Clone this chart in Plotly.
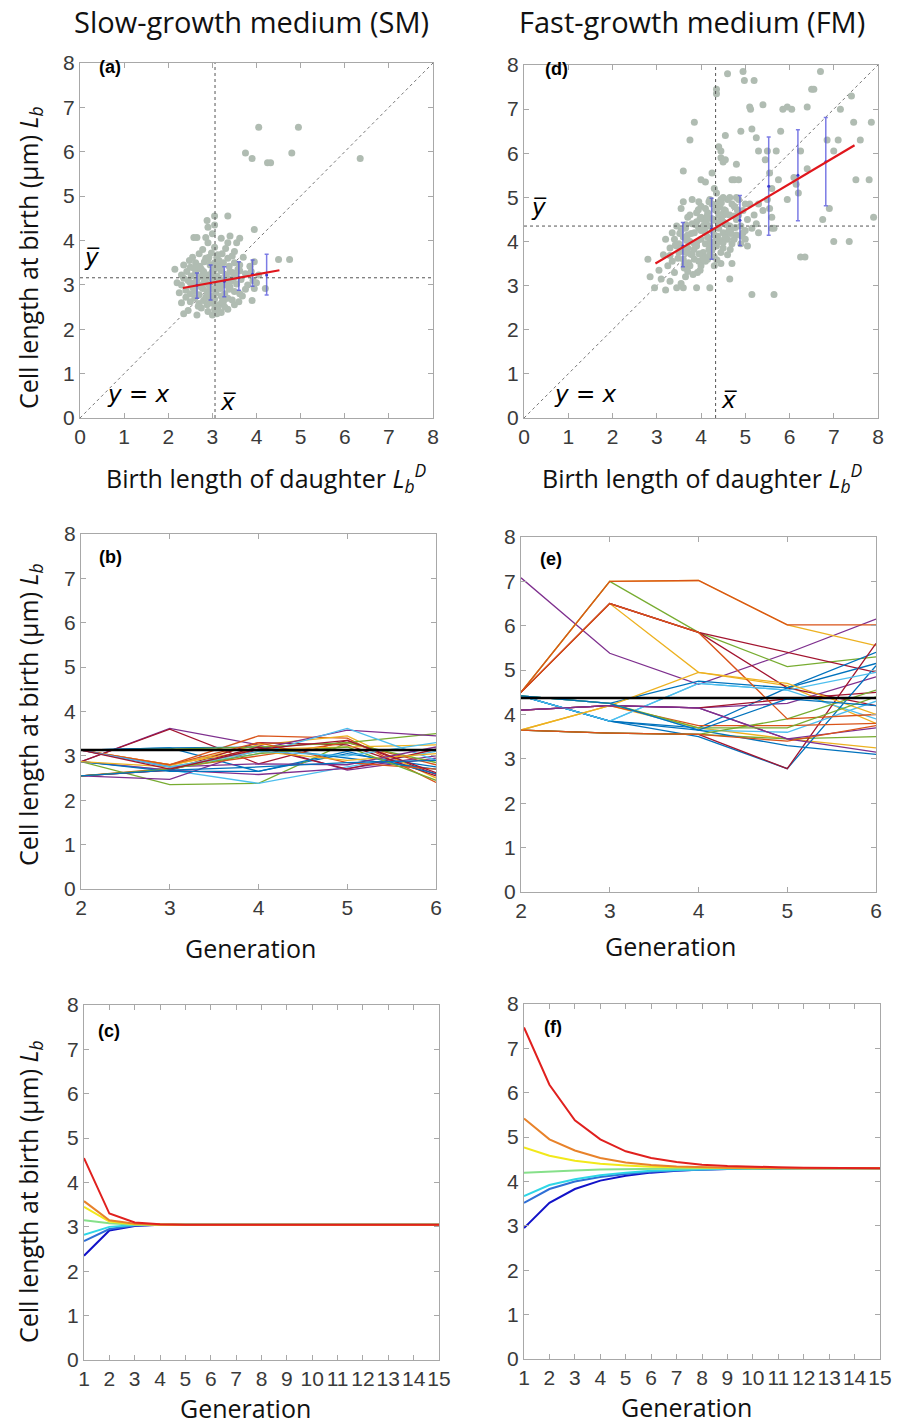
import plotly.graph_objects as go

# ---------------- DATA ----------------
# Panel (a): slow-growth medium scatter (daughter birth length vs cell birth length)
sm_x = [2.35,2.45,2.65,2.9,3.0,3.1,3.2,3.35,2.75,3.05,3.5,
        2.3,2.5,2.6,2.7,2.8,2.85,2.95,3.05,3.15,3.25,3.35,3.45,3.6,3.9,2.4,3.0,
        2.25,2.4,2.5,2.6,2.7,2.78,2.88,2.97,3.08,3.18,3.28,3.38,3.5,3.62,3.75,3.95,2.55,2.9,3.2,4.2,
        2.2,2.3,2.45,2.55,2.65,2.72,2.82,2.92,3.0,3.1,3.2,3.3,3.42,3.55,3.65,3.8,3.92,2.35,2.6,2.85,3.15,3.48,4.0,
        2.15,2.3,2.42,2.52,2.62,2.7,2.8,2.9,3.0,3.1,3.2,3.3,3.4,3.52,3.62,3.75,3.88,4.05,2.75,3.05,
        2.35,2.5,2.62,2.72,2.82,2.95,3.05,3.15,3.25,3.38,3.5,3.62,3.85,4.5,4.75,3.95,
        2.55,2.7,2.85,2.98,3.1,3.22,3.35,3.5,3.7,2.78,3.05,3.3,3.45,
        2.58,2.65,2.85,3.2,3.35,3.55,3.62,3.95,2.9,3.0,3.4,
        2.88,3.05,3.35,3.05,2.9,
        2.75,2.95,3.15,3.3,2.6,2.85,3.05,3.25,3.45,2.7,2.9,3.1,3.4,2.5,3.15,3.35,
        2.68,2.88,3.02,3.12,3.22,2.78,2.98,3.18,3.38,2.58,2.48,3.58,3.68,2.92,3.12,3.28,
        4.05,4.95,3.75,4.8,3.9,4.25,4.32,6.35]
sm_y = [2.35,2.42,2.32,2.4,2.32,2.35,2.38,2.45,2.48,2.45,2.55,
        2.6,2.62,2.7,2.58,2.65,2.72,2.6,2.68,2.55,2.62,2.7,2.66,2.62,2.65,2.72,2.75,
        2.82,2.88,2.8,2.9,2.78,2.92,2.85,2.9,2.82,2.92,2.8,2.9,2.85,2.8,2.9,2.92,2.95,2.78,2.75,2.92,
        3.05,3.0,3.1,3.02,3.12,3.0,3.08,3.0,3.12,3.02,3.1,3.0,3.08,3.02,3.12,3.0,3.1,3.15,3.05,3.15,3.15,3.15,3.05,
        3.35,3.22,3.3,3.2,3.28,3.18,3.3,3.22,3.3,3.2,3.32,3.22,3.3,3.22,3.32,3.25,3.3,3.22,3.35,3.35,
        3.45,3.4,3.5,3.42,3.52,3.45,3.5,3.42,3.5,3.42,3.5,3.45,3.42,3.57,3.57,3.52,
        3.62,3.7,3.6,3.72,3.62,3.7,3.6,3.75,3.62,3.8,3.85,3.82,3.65,
        4.07,4.07,4.07,4.05,3.95,3.95,4.05,4.25,3.95,4.15,4.1,
        4.45,4.55,4.55,4.35,4.3,
        2.95,2.7,2.95,2.7,2.85,3.05,2.92,3.05,3.28,3.4,3.58,3.4,2.95,3.05,3.55,3.15,
        2.52,2.55,2.58,2.48,2.62,3.22,3.25,3.38,3.12,3.38,3.55,3.35,2.75,3.62,3.68,2.5,
        6.55,6.55,5.97,5.97,5.85,5.75,5.75,5.85]
sm_mean_x = 3.06
sm_mean_y = 3.16
sm_fit_x = [2.33, 4.52]
sm_fit_y = [2.93, 3.33]
sm_bin_x = [2.65, 2.96, 3.27, 3.60, 3.91, 4.23]
sm_bin_mean = [2.99, 3.04, 3.08, 3.16, 3.24, 3.22]
sm_bin_hi = [3.27, 3.45, 3.41, 3.52, 3.56, 3.69]
sm_bin_lo = [2.70, 2.66, 2.73, 2.88, 2.97, 2.77]

# Panel (d): fast-growth medium scatter
fm_x = [2.8,2.85,2.95,3.05,3.1,3.2,3.25,3.15,3.3,3.35,3.4,3.45,3.5,3.55,3.6,3.4,3.3,3.2,3.65,3.9,4.2,4.65,3.75,
        3.5,3.6,3.6,3.65,3.7,3.7,3.75,3.8,3.8,3.85,3.9,3.9,3.95,3.95,4.0,4.0,4.05,4.05,4.1,4.1,4.15,4.15,4.2,4.2,
        4.25,4.25,4.3,4.3,4.35,4.35,4.4,4.4,4.45,4.45,4.5,4.5,4.55,4.55,4.6,4.6,4.65,4.7,4.7,4.75,4.8,4.8,4.85,
        4.9,4.95,5.0,5.05,5.1,5.15,5.2,5.3,5.25,5.4,5.5,5.6,5.6,5.65,
        3.55,3.65,3.75,3.85,3.95,4.0,4.05,4.1,4.15,4.2,4.25,4.3,4.35,4.4,4.45,4.5,4.55,4.6,4.65,4.7,4.75,4.85,
        4.9,4.95,5.0,5.05,4.0,3.9,4.2,4.35,4.5,4.65,4.8,3.8,4.1,4.3,4.45,4.7,3.6,3.55,3.45,3.35,3.45,
        3.7,3.85,4.0,4.12,4.22,4.38,4.48,4.58,3.72,3.92,4.08,4.28,4.42,4.62,4.78,3.98,4.18,4.52,3.62,3.82,
        3.58,3.68,3.78,3.88,3.98,4.08,4.18,4.28,4.38,4.48,4.58,4.68,3.48,3.62,3.76,3.9,4.04,4.22,4.4,4.56,
        3.52,3.66,3.84,3.96,4.14,4.32,4.46,4.64,4.82,3.3,3.42,3.94,4.24,4.5,4.76,4.92,3.7,4.06,4.36,4.66,
        3.6,3.75,3.85,4.0,4.1,4.25,4.3,4.35,4.35,4.4,4.45,4.45,4.5,4.55,4.7,4.75,4.8,4.85,4.9,4.95,4.98,5.1,
        5.12,5.15,5.2,5.25,5.3,5.4,5.45,5.5,5.55,5.55,5.6,5.7,5.75,5.8,5.85,5.95,6.05,6.1,6.2,6.25,6.25,6.35,
        6.4,6.4,6.5,6.55,6.7,6.75,6.85,6.9,7.0,7.1,7.15,7.0,7.35,7.45,7.5,7.6,7.8,7.85,7.9,7.4,4.6,4.55,
        5.95,6.15,5.0,5.15,5.65,5.3]
fm_y = [3.6,3.2,2.95,3.35,3.15,2.9,3.45,3.7,3.1,3.55,3.3,2.95,3.75,3.05,2.95,4.05,3.85,4.05,3.2,2.95,2.95,3.15,3.45,
        3.95,4.1,3.6,4.3,3.85,4.55,4.0,3.7,4.4,4.2,3.9,4.65,3.55,4.3,4.05,4.8,3.75,4.5,4.2,3.95,4.65,3.6,4.35,4.0,
        4.85,3.8,4.5,4.15,3.9,4.7,4.3,4.0,4.95,4.55,4.2,3.85,4.7,4.4,4.05,4.95,4.6,4.3,3.95,4.8,4.5,4.15,4.95,
        4.35,4.7,4.05,4.5,4.85,4.3,4.6,4.85,4.4,4.7,4.95,4.3,4.55,4.3,
        4.25,3.75,4.6,3.6,4.9,3.45,4.35,4.75,4.1,3.7,4.25,3.65,4.05,4.6,3.75,4.45,4.1,3.7,4.35,4.85,4.05,4.6,
        3.95,4.2,4.85,3.9,4.55,4.45,4.95,5.1,5.0,5.0,5.0,4.95,3.55,3.45,3.5,3.5,4.9,4.75,4.35,4.2,3.9,
        4.15,3.95,4.25,4.45,3.88,4.12,4.62,4.38,3.52,3.3,3.65,3.98,4.78,4.22,4.32,3.35,4.9,4.72,3.4,3.25,
        3.82,4.02,4.18,4.38,4.52,4.28,3.82,4.48,4.88,4.02,4.62,4.18,3.62,3.48,3.72,3.98,3.62,3.92,4.42,4.08,
        4.18,4.38,3.82,3.72,4.58,4.72,4.88,4.28,4.72,3.68,3.92,4.72,4.52,3.98,4.58,4.12,3.32,3.58,3.58,3.82,
        5.6,6.3,6.7,5.4,5.35,5.55,5.2,7.45,7.35,6.15,5.9,6.05,5.8,5.85,5.4,5.4,5.75,5.4,6.5,7.85,7.65,7.05,
        7.0,6.55,7.65,6.35,6.05,7.1,5.85,6.05,5.55,4.75,5.2,6.05,5.4,6.5,7.0,7.05,7.0,5.45,5.1,6.05,3.65,3.65,
        7.05,5.65,7.45,7.45,7.85,4.5,6.3,4.75,6.05,6.3,7.0,4.0,4.0,6.7,5.4,6.3,5.4,6.7,4.55,7.3,7.8,6.4,
        4.95,5.3,4.25,2.8,2.8,4.2]
fm_mean_x = 4.33
fm_mean_y = 4.35
fm_fit_x = [2.97, 7.47]
fm_fit_y = [3.50, 6.18]
fm_bin_x = [3.59, 4.24, 4.88, 5.53, 6.19, 6.82]
fm_bin_mean = [3.90, 4.29, 4.48, 5.25, 5.50, 5.81]
fm_bin_hi = [4.43, 4.98, 5.04, 6.37, 6.53, 6.81]
fm_bin_lo = [3.43, 3.60, 3.91, 4.14, 4.47, 4.81]

# Panel (b): lineages in SM, generations 2..6
gen_obs = [2, 3, 4, 5, 6]
sm_lineages = [
    [2.87, 3.62, 3.25, 2.68, 2.95],
    [2.87, 3.60, 2.82, 3.35, 2.58],
    [3.13, 3.18, 2.65, 3.05, 2.75],
    [3.13, 2.80, 3.45, 3.40, 2.40],
    [3.13, 2.78, 3.25, 3.45, 2.50],
    [2.87, 2.35, 2.38, 3.30, 3.50],
    [2.87, 2.68, 2.38, 2.75, 3.10],
    [2.55, 2.68, 3.30, 3.25, 2.55],
    [2.55, 2.47, 3.15, 3.58, 3.45],
    [3.13, 3.18, 3.20, 2.95, 2.70],
    [2.55, 2.72, 3.00, 3.30, 2.80],
    [3.13, 2.80, 3.15, 3.20, 3.25],
    [2.87, 2.68, 2.58, 2.72, 3.00],
    [3.13, 3.15, 3.20, 3.30, 2.85],
    [3.13, 2.75, 3.05, 3.62, 2.90],
    [2.55, 2.68, 3.20, 2.70, 3.15],
    [2.87, 2.65, 2.65, 3.10, 2.60],
    [3.13, 2.80, 3.30, 2.85, 2.70],
    [2.87, 2.75, 3.10, 2.90, 3.05],
    [3.13, 2.75, 2.82, 2.80, 3.20],
    [2.55, 2.70, 3.05, 3.20, 2.45],
    [3.13, 2.75, 3.10, 3.00, 3.30],
    [3.13, 2.70, 3.15, 3.35, 2.62],
    [2.55, 2.68, 2.75, 2.85, 2.90],
]
sm_pop_mean = 3.13

# Panel (e): lineages in FM
fm_lineages = [
    [7.08, 5.38, 4.68, 5.38, 6.15],
    [4.50, 7.00, 5.85, 5.08, 5.30],
    [4.50, 7.00, 7.02, 6.02, 5.55],
    [4.50, 7.00, 7.02, 6.02, 6.02],
    [4.50, 6.50, 5.85, 5.40, 4.95],
    [4.50, 6.50, 4.95, 4.65, 3.80],
    [4.50, 6.50, 5.85, 4.60, 4.20],
    [4.42, 4.25, 4.75, 4.60, 5.40],
    [4.42, 3.85, 4.70, 4.55, 3.90],
    [4.42, 3.85, 3.70, 4.60, 5.15],
    [4.10, 4.20, 4.15, 4.25, 4.85],
    [4.10, 4.20, 4.15, 4.35, 4.50],
    [3.65, 4.20, 3.70, 3.45, 3.25],
    [3.65, 3.58, 3.55, 3.45, 3.50],
    [4.42, 3.85, 3.50, 2.78, 5.10],
    [3.65, 3.58, 3.55, 2.78, 5.60],
    [4.42, 4.25, 3.65, 3.60, 4.30],
    [4.10, 4.20, 3.75, 3.75, 3.80],
    [4.10, 4.20, 4.15, 3.45, 3.15],
    [4.42, 3.85, 3.65, 3.30, 3.10],
    [3.65, 3.58, 3.55, 3.90, 4.55],
    [4.50, 6.50, 5.85, 3.90, 4.00],
    [4.42, 3.85, 4.70, 4.55, 4.95],
    [3.65, 4.20, 4.95, 4.70, 4.00],
    [4.10, 4.20, 4.15, 3.45, 3.70],
    [4.42, 4.25, 3.70, 3.70, 4.40],
    [4.42, 4.25, 3.65, 4.35, 4.20],
    [3.65, 3.58, 3.55, 3.40, 3.75],
]
fm_pop_mean = 4.37

# Panels (c), (f): model predictions, generations 1..15
gen_model = list(range(1, 16))
sm_model = [
    [2.35, 2.92, 3.02, 3.05, 3.05, 3.05, 3.05, 3.05, 3.05, 3.05, 3.05, 3.05, 3.05, 3.05, 3.05],
    [2.68, 2.95, 3.03, 3.05, 3.05, 3.05, 3.05, 3.05, 3.05, 3.05, 3.05, 3.05, 3.05, 3.05, 3.05],
    [2.82, 3.00, 3.04, 3.05, 3.05, 3.05, 3.05, 3.05, 3.05, 3.05, 3.05, 3.05, 3.05, 3.05, 3.05],
    [3.15, 3.08, 3.05, 3.05, 3.05, 3.05, 3.05, 3.05, 3.05, 3.05, 3.05, 3.05, 3.05, 3.05, 3.05],
    [3.45, 3.12, 3.06, 3.05, 3.05, 3.05, 3.05, 3.05, 3.05, 3.05, 3.05, 3.05, 3.05, 3.05, 3.05],
    [3.58, 3.15, 3.07, 3.05, 3.05, 3.05, 3.05, 3.05, 3.05, 3.05, 3.05, 3.05, 3.05, 3.05, 3.05],
    [4.55, 3.30, 3.10, 3.06, 3.05, 3.05, 3.05, 3.05, 3.05, 3.05, 3.05, 3.05, 3.05, 3.05, 3.05],
]
fm_model = [
    [2.95, 3.52, 3.83, 4.02, 4.13, 4.20, 4.24, 4.27, 4.28, 4.29, 4.30, 4.30, 4.30, 4.30, 4.30],
    [3.52, 3.83, 4.00, 4.10, 4.17, 4.22, 4.25, 4.27, 4.28, 4.29, 4.30, 4.30, 4.30, 4.30, 4.30],
    [3.67, 3.92, 4.05, 4.14, 4.20, 4.24, 4.26, 4.28, 4.29, 4.29, 4.30, 4.30, 4.30, 4.30, 4.30],
    [4.20, 4.23, 4.25, 4.27, 4.28, 4.29, 4.29, 4.30, 4.30, 4.30, 4.30, 4.30, 4.30, 4.30, 4.30],
    [4.77, 4.58, 4.47, 4.40, 4.36, 4.33, 4.32, 4.31, 4.30, 4.30, 4.30, 4.30, 4.30, 4.30, 4.30],
    [5.42, 4.95, 4.70, 4.53, 4.43, 4.37, 4.34, 4.32, 4.31, 4.31, 4.30, 4.30, 4.30, 4.30, 4.30],
    [7.47, 6.18, 5.38, 4.95, 4.68, 4.53, 4.44, 4.38, 4.35, 4.33, 4.32, 4.31, 4.31, 4.30, 4.30],
]

# ---------------- STYLE ----------------
model_colors = ["#1212c8", "#2f6fd6", "#2ed6e6", "#86e08a", "#f2e81a", "#e8822a", "#e0201e"]
P, R, B, O, Y, G, C = "#7E2F8E", "#A2142F", "#0072BD", "#D95319", "#EDB120", "#77AC30", "#4DBEEE"
sm_line_colors = [P, R, B, O, Y, G, C, R, P, B, O, Y, P, G, C, R, B, O, Y, P, G, C, R, B]
fm_line_colors = [P, G, Y, O, R, Y, R, B, C, B, P, R, Y, G, B, R, C, O, P, B, G, O, C, Y, P, G, B, O]

W, H = 904, 1428
def px(x): return x / W
def py(y): return 1 - y / H

fig = go.Figure()

def scatter_panel(xs, ys, mx, my, fx, fy, bx, bm, bh, bl, xa, ya):
    fig.add_trace(go.Scatter(x=[0, 8], y=[0, 8], mode="lines", xaxis=xa, yaxis=ya,
                             line=dict(color="#777", width=1, dash="dot"), showlegend=False))
    fig.add_trace(go.Scatter(x=xs, y=ys, mode="markers", xaxis=xa, yaxis=ya,
                             marker=dict(color="rgb(176,188,178)", size=7), showlegend=False))
    fig.add_trace(go.Scatter(x=[0, 8], y=[my, my], mode="lines", xaxis=xa, yaxis=ya,
                             line=dict(color="#555", width=1, dash="dot"), showlegend=False))
    fig.add_trace(go.Scatter(x=[mx, mx], y=[0, 8], mode="lines", xaxis=xa, yaxis=ya,
                             line=dict(color="#555", width=1, dash="dot"), showlegend=False))
    fig.add_trace(go.Scatter(x=bx, y=bm, mode="markers", xaxis=xa, yaxis=ya,
                             marker=dict(color="#3a3ad0", size=3),
                             error_y=dict(type="data", symmetric=False,
                                          array=[h - m for h, m in zip(bh, bm)],
                                          arrayminus=[m - l for m, l in zip(bm, bl)],
                                          color="rgba(80,80,220,0.75)", thickness=1.5, width=2),
                             showlegend=False))
    fig.add_trace(go.Scatter(x=fx, y=fy, mode="lines", xaxis=xa, yaxis=ya,
                             line=dict(color="#e0161c", width=2.2), showlegend=False))

scatter_panel(sm_x, sm_y, sm_mean_x, sm_mean_y, sm_fit_x, sm_fit_y,
              sm_bin_x, sm_bin_mean, sm_bin_hi, sm_bin_lo, "x", "y")
scatter_panel(fm_x, fm_y, fm_mean_x, fm_mean_y, fm_fit_x, fm_fit_y,
              fm_bin_x, fm_bin_mean, fm_bin_hi, fm_bin_lo, "x2", "y2")

def lineage_panel(lines, colors, mean, xa, ya):
    for l, c in zip(lines, colors):
        fig.add_trace(go.Scatter(x=gen_obs, y=l, mode="lines", xaxis=xa, yaxis=ya,
                                 line=dict(color=c, width=1.3), showlegend=False))
    fig.add_trace(go.Scatter(x=[gen_obs[0], gen_obs[-1]], y=[mean, mean], mode="lines",
                             xaxis=xa, yaxis=ya, line=dict(color="black", width=2.5), showlegend=False))

lineage_panel(sm_lineages, sm_line_colors, sm_pop_mean, "x3", "y3")
lineage_panel(fm_lineages, fm_line_colors, fm_pop_mean, "x4", "y4")

def model_panel(lines, xa, ya):
    for l, c in zip(lines, model_colors):
        fig.add_trace(go.Scatter(x=gen_model, y=l, mode="lines", xaxis=xa, yaxis=ya,
                                 line=dict(color=c, width=2), showlegend=False))

model_panel(sm_model, "x5", "y5")
model_panel(fm_model, "x6", "y6")

axis_style = dict(showline=True, linecolor="#a8a8a8", linewidth=1, mirror="ticks",
                  ticks="inside", tickcolor="#a8a8a8", ticklen=5, showgrid=False, zeroline=False,
                  automargin=False,
                  tickfont=dict(family="Liberation Sans, Arial", size=21, color="#3a3a3a"))

domains = {
    1: ((80, 433), (63, 418)),
    2: ((524, 878), (65, 418)),
    3: ((81, 436), (534, 889)),
    4: ((521, 876), (537, 892)),
    5: ((84, 439), (1005, 1360)),
    6: ((524, 880), (1004, 1359)),
}
xranges = {1: [0, 8], 2: [0, 8], 3: [2, 6], 4: [2, 6], 5: [1, 15], 6: [1, 15]}
layout = {}
for k, ((x0, x1), (y0, y1)) in domains.items():
    sx = "" if k == 1 else str(k)
    layout["xaxis" + sx] = dict(axis_style, domain=[px(x0), px(x1)], range=xranges[k], dtick=1,
                                anchor="y" + sx, tickangle=0)
    layout["yaxis" + sx] = dict(axis_style, domain=[py(y1), py(y0)], range=[0, 8], dtick=1,
                                anchor="x" + sx)
fig.update_layout(**layout)

ann = []
title_font = dict(family="Open Sans, Noto Sans", size=29, color="#111")
label_font = dict(family="Open Sans, Noto Sans", size=25, color="#111")
ann.append(dict(text="Slow-growth medium (SM)", x=px(251), y=py(22), font=title_font))
ann.append(dict(text="Fast-growth medium (FM)", x=px(692), y=py(22), font=title_font))
for cy in (258, 715, 1192):
    ann.append(dict(text="Cell length at birth (μm) <i>L<sub>b</sub></i>", x=px(29), y=py(cy),
                    textangle=-90, font=label_font))
ann.append(dict(text="Birth length of daughter <i>L<sub>b</sub><sup>D</sup></i>", x=px(266), y=py(478),
                font=label_font))
ann.append(dict(text="Birth length of daughter <i>L<sub>b</sub><sup>D</sup></i>", x=px(702), y=py(478),
                font=label_font))
for cx, cy in ((250, 948), (670, 946), (246, 1408), (686, 1407)):
    ann.append(dict(text="Generation", x=px(cx), y=py(cy), font=label_font))
panel_font = dict(family="Liberation Sans, Arial", size=18, color="#000")
for t, cx, cy in (("(a)", 110, 67), ("(d)", 556, 69), ("(b)", 110, 557), ("(e)", 551, 559),
                  ("(c)", 109, 1031), ("(f)", 553, 1027)):
    ann.append(dict(text="<b>%s</b>" % t, x=px(cx), y=py(cy), font=panel_font))
sym_font = dict(family="DejaVu Sans", size=23, color="#000")
for t, cx, cy in (("<i>y\u0305</i>", 92, 257), ("<i>y</i> = <i>x</i>", 138, 394), ("<i>x\u0305</i>", 229, 402),
                  ("<i>y\u0305</i>", 539, 207), ("<i>y</i> = <i>x</i>", 585, 394), ("<i>x\u0305</i>", 729, 400)):
    ann.append(dict(text=t, x=px(cx), y=py(cy), font=sym_font))
for a in ann:
    a.update(xref="paper", yref="paper", showarrow=False, xanchor="center", yanchor="middle")

fig.update_layout(annotations=ann, width=W, height=H, margin=dict(l=0, r=0, t=0, b=0),
                  paper_bgcolor="white", plot_bgcolor="white")
fig.write_html("out.html")
